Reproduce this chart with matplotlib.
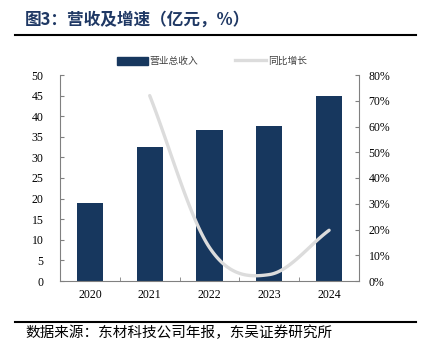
import numpy as np
import matplotlib.pyplot as plt
from matplotlib.lines import Line2D
from matplotlib.patches import Patch

plt.rcParams['font.family'] = ['Noto Sans CJK SC', 'DejaVu Sans']

years = ['2020', '2021', '2022', '2023', '2024']
revenue = [18.9, 32.5, 36.7, 37.6, 45.0]
growth = [None, 72.0, 13.0, 2.5, 19.7]

bar_color = '#17375E'
line_color = '#DCDCDC'
num_font = 'Liberation Serif'


def catmull_rom(xs, ys, n=40):
    # simple smoothed curve through the points (like Excel's smoothed line)
    pts = np.column_stack([xs, ys]).astype(float)
    p = np.vstack([2 * pts[0] - pts[1], pts, 2 * pts[-1] - pts[-2]])
    out = []
    for i in range(1, len(p) - 2):
        p0, p1, p2, p3 = p[i - 1], p[i], p[i + 1], p[i + 2]
        t = np.linspace(0, 1, n)[:, None]
        seg = 0.5 * ((2 * p1) + (-p0 + p2) * t + (2 * p0 - 5 * p1 + 4 * p2 - p3) * t ** 2
                     + (-p0 + 3 * p1 - 3 * p2 + p3) * t ** 3)
        out.append(seg)
    c = np.vstack(out)
    return c[:, 0], c[:, 1]


fig = plt.figure(figsize=(4.27, 3.42), dpi=100)
ax = fig.add_axes([60 / 427, 61 / 342, 299 / 427, 206 / 342])
x = np.arange(len(years))
ax.bar(x, revenue, width=0.44, color=bar_color, zorder=2)
ax.set_xlim(-0.5, len(years) - 0.5)
ax.set_ylim(0, 50)
ax.set_yticks(range(0, 51, 5))
ax.set_xticks(x)
ax.set_xticklabels(years, fontfamily=num_font, fontsize=8.5)
ax.set_xticks(np.arange(0.5, len(years) - 1, 1), minor=True)
ax.tick_params(axis='x', which='major', length=0, pad=6)
ax.tick_params(axis='x', which='minor', direction='in', length=3, color='#808080')
ax.tick_params(axis='y', direction='in', length=3, color='#808080', labelsize=8.5, pad=12)
for lab in ax.get_yticklabels():
    lab.set_fontfamily(num_font)
for s in ['top', 'right']:
    ax.spines[s].set_visible(False)
for s in ['left', 'bottom']:
    ax.spines[s].set_color('#808080')
    ax.spines[s].set_linewidth(0.8)

ax2 = ax.twinx()
gx = [i for i, g in enumerate(growth) if g is not None]
gy = [g for g in growth if g is not None]
sx, sy = catmull_rom(gx, gy)
ax2.plot(sx, sy, color=line_color, lw=2.4, solid_capstyle='round', zorder=3)
ax2.set_ylim(0, 80)
ax2.set_yticks(range(0, 81, 10))
ax2.set_yticklabels([f'{v}%' for v in range(0, 81, 10)], fontfamily=num_font, fontsize=8.5)
ax2.tick_params(axis='y', direction='in', length=3, color='#808080', pad=7)
for s in ['top', 'left', 'bottom']:
    ax2.spines[s].set_visible(False)
ax2.spines['right'].set_color('#808080')
ax2.spines['right'].set_linewidth(0.8)

handles = [Patch(color=bar_color), Line2D([], [], color=line_color, lw=2.4)]
fig.legend(handles, ['营业总收入', '同比增长'], loc='center', bbox_to_anchor=(212 / 427, 1 - 61 / 342),
           ncol=2, frameon=False, fontsize=7, handlelength=3.2, handleheight=0.9,
           handletextpad=0.2, columnspacing=3.8, labelcolor='#404040')

fig.text(25 / 427, 1 - 20 / 342, '图3：营收及增速（亿元，%）', fontsize=12, fontweight='bold',
         color='#1F3864', va='center', ha='left')
fig.add_artist(Line2D([15 / 427, 416 / 427], [1 - 35 / 342] * 2, color='black', lw=1.5))
fig.add_artist(Line2D([15 / 427, 416 / 427], [1 - 322 / 342] * 2, color='black', lw=1.5))
fig.text(25 / 427, 1 - 333 / 342, '数据来源：东材科技公司年报，东吴证券研究所', fontsize=10.5,
         color='black', va='center', ha='left')

fig.savefig('out.png', dpi=100, facecolor='white')
